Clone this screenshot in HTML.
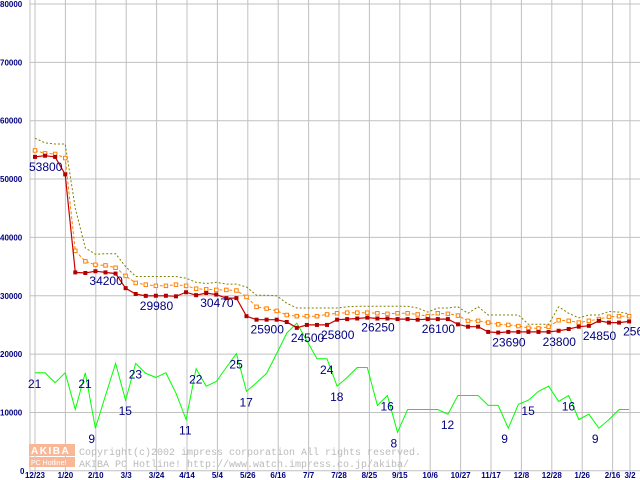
<!DOCTYPE html>
<html><head><meta charset="utf-8">
<style>
html,body{margin:0;padding:0;background:#fff;}
svg{display:block;font-family:"Liberation Sans",sans-serif;}
</style></head>
<body>
<svg id="chart" width="640" height="480" viewBox="0 0 640 480" xmlns="http://www.w3.org/2000/svg">
<rect x="0" y="0" width="640" height="480" fill="#fff"/>
<g id="grid"></g>
<g id="yticks"></g>
<g id="xticks"></g>
<g>
<rect x="29" y="444" width="46" height="12" fill="#f8b898"/>
<text x="31" y="454" font-size="10" font-weight="bold" fill="#fff" letter-spacing="1.5">AKIBA</text>
<rect x="29" y="457" width="46" height="10" fill="#f8b898"/>
<text x="31" y="465" font-size="7" fill="#fff">PC Hotline!</text>
<text x="79" y="455" font-size="10" fill="#bbb" font-family="Liberation Mono,monospace">Copyright(c)2002 impress corporation All rights reserved.</text>
<text x="79" y="467" font-size="10" fill="#bbb" font-family="Liberation Mono,monospace">AKIBA PC Hotline!  http://www.watch.impress.co.jp/akiba/</text>
</g>
<g id="series"></g>
<g id="labels"></g>
</svg>
<script>
const xTickLabels = ["12/23","1/20","2/10","3/3","3/24","4/14","5/4","5/26","6/16","7/7","7/28","8/25","9/15","10/6","10/27","11/17","12/8","12/28","1/26","2/16","3/2"];
const yTickValues = [0,10000,20000,30000,40000,50000,60000,70000,80000];
const minPrice = [53800,54000,53800,50800,34000,33900,34200,34000,33800,31300,30300,29980,30000,30000,29900,30600,30100,30470,30200,29600,29600,26500,25900,25900,25900,25500,24500,25000,25000,25000,25900,26000,26100,26250,26100,26100,26000,26000,25900,26000,26000,26000,25100,24700,24700,23800,23690,23800,23800,23800,23800,23800,24000,24300,24700,24850,25700,25400,25400,25600];
const avgPrice = [54900,54400,54300,53600,37700,35900,35300,35200,34800,33400,32200,31900,31700,31700,31900,31700,31200,31100,31000,31000,30900,29800,28100,27800,27400,26700,26500,26500,26500,26800,27000,27100,27100,27100,27000,26900,27000,27000,26800,26500,27000,26900,26600,25700,25700,25400,25100,25000,24800,24500,24400,24700,25800,25700,25400,25700,26000,26400,26500,26500];
const maxPrice = [57000,56200,56000,56000,45000,38200,37100,37200,37200,35000,33300,33300,33300,33300,33300,33000,32300,32100,32300,32000,32000,31500,30100,30100,30000,28700,27900,27900,27900,27900,27900,28100,28200,28200,28200,28200,28200,28200,27900,27200,27900,27900,28100,27000,28100,26700,26700,26700,26700,25100,25100,25100,28100,27000,26200,26700,26700,27300,27200,26900];
const shopCount = [16800,16800,15100,16800,10500,16800,7300,12900,18400,12100,18400,16700,16000,16800,13300,8800,17500,14500,15300,17700,20100,13600,15100,16700,20100,23600,25300,22300,19200,19200,14500,16000,17700,17700,11200,12900,6600,10500,10500,10500,10500,9700,12900,12900,12900,11200,11200,7300,11400,12100,13600,14500,11900,12900,8800,9700,7300,8800,10500,10500];
const priceLabels = [[0,"53800"],[6,"34200"],[11,"29980"],[17,"30470"],[22,"25900"],[26,"24500"],[29,"25800"],[33,"26250"],[39,"26100"],[46,"23690"],[51,"23800"],[55,"24850"],[59,"25600"]];
const countLabels = [[0,"21"],[5,"21"],[6,"9"],[9,"15"],[10,"23"],[15,"11"],[16,"22"],[20,"25"],[21,"17"],[29,"24"],[30,"18"],[35,"16"],[36,"8"],[41,"12"],[47,"9"],[49,"15"],[53,"16"],[56,"9"]];

const NS="http://www.w3.org/2000/svg";
const X0=35, DX=10.07, GX=30.4;
function xIdx(i){return X0+i*DX;}
function yVal(v){return 470.8 - v*0.005835;}
function mk(tag,attrs,parent){const e=document.createElementNS(NS,tag);for(const k in attrs)e.setAttribute(k,attrs[k]);parent.appendChild(e);return e;}

const grid=document.getElementById('grid');
yTickValues.forEach(v=>{
  const l=mk('line',{x1:30,x2:640,y1:yVal(v),y2:yVal(v),stroke:'#c0c0c0','stroke-width':1},grid);
  
  
});
xTickLabels.forEach((t,i)=>{
  const x = i<20 ? X0+i*GX : 630;
  const l=mk('line',{x1:x,x2:x,y1:0,y2:474,stroke:'#c0c0c0','stroke-width':1},grid);
  
  
  const tx=mk('text',{x:x,y:478,'font-size':8,'font-weight':'bold',fill:'#000080','text-anchor':'middle'},document.getElementById('xticks'));
  tx.textContent=t;
  
  
});
const ax=mk('line',{x1:30,x2:30,y1:0,y2:474,stroke:'#c0c0c0'},grid);


yTickValues.forEach(v=>{
  const t=mk('text',{x:v===0?20:0,y:yVal(v)+3,'font-size':8,'font-weight':'bold',fill:'#000080'},document.getElementById('yticks'));
  t.textContent=String(v);
  
  
});

const ser=document.getElementById('series');
function pts(arr){return arr.map((v,i)=>xIdx(i).toFixed(1)+','+yVal(v).toFixed(1)).join(' ');}
const gl=mk('polyline',{points:pts(shopCount),fill:'none',stroke:'#00ff00','stroke-width':1},ser);


const ml=mk('polyline',{points:pts(maxPrice),fill:'none',stroke:'#808000','stroke-width':1,'stroke-dasharray':'2,2'},ser);


const al=mk('polyline',{points:pts(avgPrice),fill:'none',stroke:'#ff8000','stroke-width':1,'stroke-dasharray':'3,2'},ser);


avgPrice.forEach((v,i)=>{
  const r=mk('rect',{x:xIdx(i)-1.75,y:yVal(v)-1.75,width:3.5,height:3.5,fill:'#fff',stroke:'#ff8000','stroke-width':1},ser);
  
  
});
const rl=mk('polyline',{points:pts(minPrice),fill:'none',stroke:'#cc0000','stroke-width':1.2},ser);


minPrice.forEach((v,i)=>{
  const r=mk('rect',{x:xIdx(i)-2,y:yVal(v)-2,width:4,height:4,fill:'#b00000'},ser);
  
  
});

const lab=document.getElementById('labels');
priceLabels.forEach(([i,t])=>{
  const e=mk('text',{x:xIdx(i)-6,y:yVal(minPrice[i])+14,'font-size':12,fill:'#000080'},lab);
  e.textContent=t;
  
  
});
countLabels.forEach(([i,t])=>{
  const e=mk('text',{x:xIdx(i)-7,y:yVal(shopCount[i])+15,'font-size':12,fill:'#000080'},lab);
  e.textContent=t;
  
  
});
</script>
</body></html>
